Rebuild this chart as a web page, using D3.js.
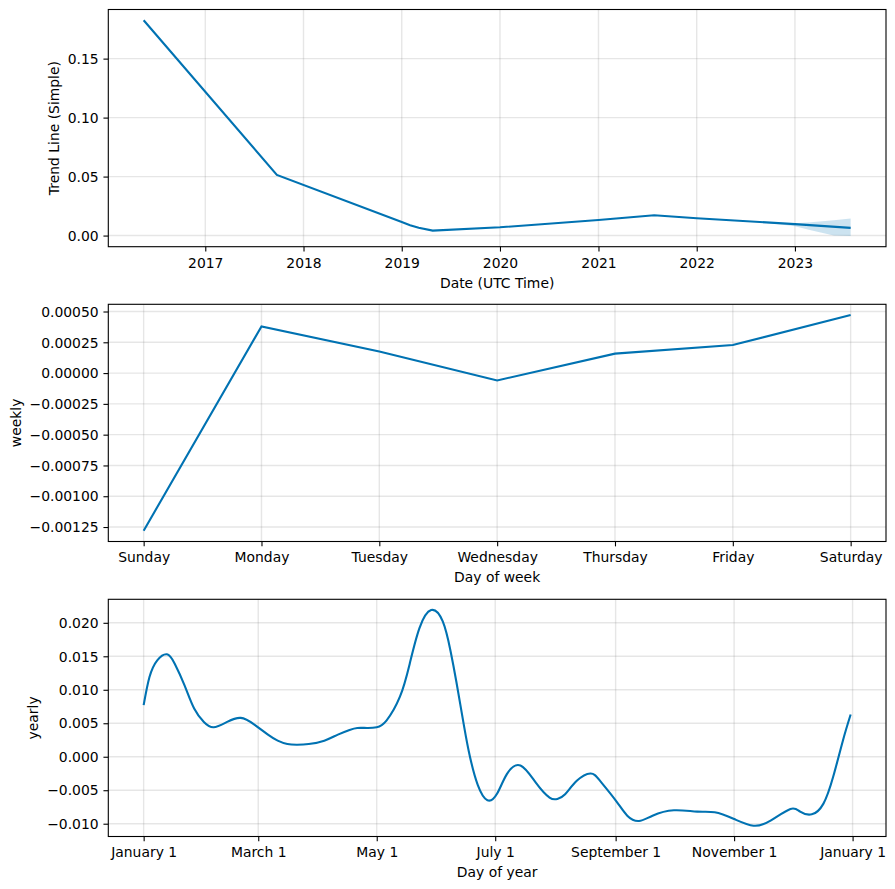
<!DOCTYPE html>
<html>
<head>
<meta charset="utf-8">
<script src="https://cdn.jsdelivr.net/npm/d3@7"></script>
<style>
    body { margin: 0; background: #fff; }
    svg { display: block; font-family: "DejaVu Sans", sans-serif; }
    .axis text { font-family: "DejaVu Sans", sans-serif; font-size: 13.9px; fill: #000; }
    .axis line { stroke: #000; stroke-width: 1.1; }
    .grid line { stroke: gray; stroke-opacity: 0.2; stroke-width: 1.4; }
    .label { font-family: "DejaVu Sans", sans-serif; font-size: 13.9px; fill: #000; }
</style>
</head>
<body>
<div class="container"></div>
<script>
// TREND DATA
const trendDates = ["2016-05-17", "2017-09-24", "2019-01-01", "2019-02-01", "2019-03-05", "2019-04-26",
    "2020-01-01", "2021-01-01", "2021-07-27", "2022-01-01", "2023-01-01", "2023-07-27"];
const trendValues = [0.1825, 0.0514, 0.0115, 0.0088, 0.0066, 0.0042,
    0.0070, 0.0132, 0.0172, 0.0147, 0.0097, 0.0065];
// uncertainty band of the forecast part
const bandDates = ["2022-08-01", "2022-11-01", "2023-01-01", "2023-03-01", "2023-05-25", "2023-07-27"];
const bandUpper = [0.0118, 0.0108, 0.0104, 0.0112, 0.0130, 0.0144];
const bandLower = [0.0118, 0.0095, 0.0080, 0.0045, 0.0000, -0.0003];
const trendTicks = [0, 0.05, 0.10, 0.15];

// WEEKLY DATA
const weekDays = ["Sunday", "Monday", "Tuesday", "Wednesday", "Thursday", "Friday", "Saturday"];
const weeklyValues = [-0.00128, 0.000379, 0.000175, -0.00006, 0.000158, 0.000228, 0.000471];
const weeklyTicks = [-0.00125, -0.001, -0.00075, -0.0005, -0.00025, 0, 0.00025, 0.0005];

// YEARLY DATA (day of year, starting on January 1)
const yearDays = [0, 3, 7, 12, 16, 21, 26, 31, 36, 43, 50, 57, 64, 69, 74, 79, 85, 93, 100, 106, 110,
    115, 120, 125, 132, 137, 142, 148, 154, 158, 161, 165, 168, 172, 177, 182, 187, 194, 202, 209, 213,
    217, 223, 230, 235, 243, 249, 255, 262, 273, 285, 294, 304, 314, 323, 333, 338, 344, 350, 355, 360,
    364];
const yearlyValues = [0.0077, 0.0119, 0.0144, 0.0153, 0.0139, 0.0107, 0.0072, 0.0052, 0.0044, 0.0052,
    0.0058, 0.0048, 0.0033, 0.0024, 0.0019, 0.0018, 0.0019, 0.0024, 0.0033, 0.0040, 0.0043,
    0.0043, 0.0044, 0.0054, 0.0090, 0.0139, 0.0192, 0.0219, 0.0202, 0.0158, 0.0112, 0.0045, 0.0000,
    -0.0042, -0.0065, -0.0055, -0.0026, -0.0013, -0.0039, -0.0061, -0.0063,
    -0.0056, -0.0036, -0.0025, -0.0036, -0.0065, -0.0088, -0.0096, -0.0088, -0.0080, -0.0082, -0.0083,
    -0.0093, -0.0103, -0.0095, -0.0078, -0.0082, -0.0086, -0.0070, -0.0030, 0.0024,
    0.0063];
const yearlyTicks = [-0.01, -0.005, 0, 0.005, 0.01, 0.015, 0.02];

// LAYOUT
const width = 895, height = 889;
const left = 108.3, right = 886;
const panelTops = [9.5, 304.3, 599.3];
const panelHeight = 237.2;
const tickSize = 4.86;
const lineColor = "#0072B2";

const parseDate = d3.utcParse("%Y-%m-%d");

// matplotlib style 5% margins around the data
const pad = ([lo, hi]) => [lo - (hi - lo) * 0.05, hi + (hi - lo) * 0.05];
const padTime = ([lo, hi]) => {
    const m = (hi - lo) * 0.05;
    return [new Date(+lo - m), new Date(+hi + m)];
};

const svg = d3.select(".container")
    .append("svg")
    .attr("width", width)
    .attr("height", height);

// draws grid, axes, frame and labels of one panel
function drawAxes(panel, x, y, xTicks, xFormat, yTicks, yFormat, xLabel, yLabel) {
    const h = panelHeight, w = right - left;

    const grid = panel.append("g").attr("class", "grid");
    grid.selectAll(".gx")
        .data(xTicks)
        .enter()
        .append("line")
        .attr("x1", d => x(d)).attr("x2", d => x(d))
        .attr("y1", 0).attr("y2", h);
    grid.selectAll(".gy")
        .data(yTicks)
        .enter()
        .append("line")
        .attr("x1", 0).attr("x2", w)
        .attr("y1", d => y(d)).attr("y2", d => y(d));

    const xAxis = panel.append("g")
        .attr("class", "axis")
        .call(g => g.attr("transform", `translate(0, ${h})`))
        .call(d3.axisBottom(x).tickValues(xTicks).tickFormat(xFormat)
            .tickSize(tickSize).tickPadding(tickSize))
        .attr("font-family", null)
        .attr("font-size", null);
    xAxis.select(".domain").remove();
    xAxis.selectAll("text").attr("dy", "0.8em");

    const yAxis = panel.append("g")
        .attr("class", "axis")
        .call(d3.axisLeft(y).tickValues(yTicks).tickFormat(yFormat)
            .tickSize(tickSize).tickPadding(tickSize))
        .attr("font-family", null)
        .attr("font-size", null);
    yAxis.select(".domain").remove();
    yAxis.selectAll("text").attr("dy", "0.34em");

    panel.append("rect")
        .attr("width", w)
        .attr("height", h)
        .attr("fill", "none")
        .attr("stroke", "#000")
        .attr("stroke-width", 1.1);

    panel.append("text")
        .attr("class", "label")
        .attr("text-anchor", "middle")
        .attr("x", w / 2)
        .attr("y", h + 41)
        .text(xLabel);

    // y label sits left of the widest tick label
    const box = yAxis.node().getBBox();
    const lx = box.x - 5.6 - 3.3;
    panel.append("text")
        .attr("class", "label")
        .attr("text-anchor", "middle")
        .attr("transform", `translate(${lx}, ${h / 2}) rotate(-90)`)
        .text(yLabel);
}

// PANEL 1: TREND
const trendData = trendDates.map((d, i) => ({ date: parseDate(d), value: trendValues[i] }));
const bandData = bandDates.map((d, i) => ({ date: parseDate(d), upper: bandUpper[i], lower: bandLower[i] }));

const trendX = d3.scaleUtc()
    .domain(padTime(d3.extent(trendData, d => d.date)))
    .range([0, right - left]);
const trendY = d3.scaleLinear()
    .domain(pad(d3.extent([...trendValues, ...bandUpper, ...bandLower])))
    .range([panelHeight, 0]);

const trendPanel = svg.append("g").attr("transform", `translate(${left}, ${panelTops[0]})`);
drawAxes(trendPanel, trendX, trendY,
    d3.utcYear.range(...trendX.domain()), d3.utcFormat("%Y"),
    trendTicks, d3.format(".2f"),
    "Date (UTC Time)", "Trend Line (Simple)");

trendPanel.append("path")
    .datum(bandData)
    .attr("fill", lineColor)
    .attr("fill-opacity", 0.2)
    .attr("d", d3.area().x(d => trendX(d.date)).y0(d => trendY(d.lower)).y1(d => trendY(d.upper)));

trendPanel.append("path")
    .datum(trendData)
    .attr("fill", "none")
    .attr("stroke", lineColor)
    .attr("stroke-width", 2.1)
    .attr("d", d3.line().x(d => trendX(d.date)).y(d => trendY(d.value)));

// PANEL 2: WEEKLY
const weekX = d3.scaleLinear()
    .domain(pad([0, weekDays.length - 1]))
    .range([0, right - left]);
const weekY = d3.scaleLinear()
    .domain(pad(d3.extent(weeklyValues)))
    .range([panelHeight, 0]);

const weekPanel = svg.append("g").attr("transform", `translate(${left}, ${panelTops[1]})`);
drawAxes(weekPanel, weekX, weekY,
    d3.range(weekDays.length), i => weekDays[i],
    weeklyTicks, d3.format(".5f"),
    "Day of week", "weekly");

weekPanel.append("path")
    .datum(weeklyValues)
    .attr("fill", "none")
    .attr("stroke", lineColor)
    .attr("stroke-width", 2.1)
    .attr("d", d3.line().x((d, i) => weekX(i)).y(d => weekY(d)));

// PANEL 3: YEARLY
const yearStart = Date.UTC(2017, 0, 1);
const yearData = yearDays.map((d, i) => ({ date: d3.utcDay.offset(new Date(yearStart), d), value: yearlyValues[i] }));

const yearX = d3.scaleUtc()
    .domain(padTime(d3.extent(yearData, d => d.date)))
    .range([0, right - left]);
const yearY = d3.scaleLinear()
    .domain(pad(d3.extent(yearlyValues)))
    .range([panelHeight, 0]);

const yearPanel = svg.append("g").attr("transform", `translate(${left}, ${panelTops[2]})`);
drawAxes(yearPanel, yearX, yearY,
    d3.utcMonth.every(2).range(...yearX.domain()), d3.utcFormat("%B %-d"),
    yearlyTicks, d3.format(".3f"),
    "Day of year", "yearly");

yearPanel.append("path")
    .datum(yearData)
    .attr("fill", "none")
    .attr("stroke", lineColor)
    .attr("stroke-width", 2.1)
    .attr("d", d3.line().curve(d3.curveNatural).x(d => yearX(d.date)).y(d => yearY(d.value)));
</script>
</body>
</html>
